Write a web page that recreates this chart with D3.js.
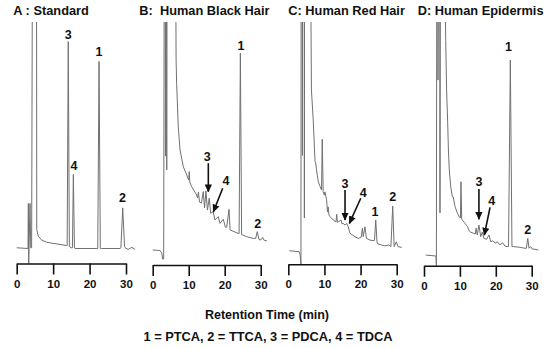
<!DOCTYPE html>
<html>
<head>
<meta charset="utf-8">
<script src="https://cdn.jsdelivr.net/npm/d3@7"></script>
<style>
body { margin: 0; background: #fff; }
text { font-family: "Liberation Sans", Arial, Helvetica, sans-serif; font-weight: bold; fill: #111; }
</style>
</head>
<body>
<svg id="chart" width="550" height="348"></svg>
<script>
// panel titles
const titles = ["A : Standard", "B:  Human Black Hair", "C: Human Red Hair", "D: Human Epidermis"];
const tickValues = [0, 10, 20, 30];
const xTitle = "Retention Time (min)";
const legendText = "1 = PTCA, 2 = TTCA, 3 = PDCA, 4 = TDCA";

// traces: [retention time (min), signal (% of full scale)]
// values above 100 are off scale and get clipped
const traceA = [[0,6.5],[2.9,6.2],[3.1,6.2],[3.2,24.8],[3.3,0],[3.65,24.8],[3.85,6.5],[4.1,6.5],[4.3,120],[5.45,120],[5.5,14],[5.9,11.3],[6.9,9.6],[8.2,8.8],[10,8.3],[11.9,7.9],[13.7,7.4],[13.85,7.4],[14.15,91.7],[14.45,7.2],[14.8,6.5],[15.3,6.5],[15.55,36.8],[15.85,6.4],[16,6.2],[22,6.2],[22.25,6.2],[22.6,83.5],[22.95,6.2],[23.3,6.2],[28.35,6.2],[28.6,6.5],[29.1,23],[29.6,7],[29.8,6.5],[30.6,5.8],[31.6,6.7],[32.5,5.8]];
const traceB = [[0,6.2],[2.0,6],[2.5,5],[2.8,2.4],[3.05,2.5],[3.2,120],[3.5,120],[3.55,45],[3.6,120],[3.85,120],[3.9,39.3],[3.97,120],[6.4,120],[6.5,84.7],[6.65,75.1],[7.1,57.1],[7.6,47.5],[8.5,40.6],[9.45,37.2],[10.0,35.1],[10.15,38.6],[10.3,34.3],[10.8,32.4],[12.2,28.9],[12.45,27.7],[12.7,30.2],[13.0,26],[13.55,25.6],[14.05,30.3],[14.4,23.6],[14.8,30.6],[15.2,22.7],[15.7,27.6],[16.1,21.4],[16.8,22],[17.3,18.6],[18.2,20],[18.7,17.2],[19.6,18.9],[20.2,15.6],[20.55,15.6],[21.2,23],[21.5,14.5],[22.9,13.6],[23.7,13.1],[24.0,13],[24.35,87.5],[24.7,12.5],[25,12.4],[26.1,11.7],[27.9,11],[28.6,11],[29.05,13.8],[29.5,10.6],[30,10.3],[30.55,11.4],[31,10.1],[31.7,10]];
const traceC = [[0.3,5.6],[3.0,5.2],[3.3,3.8],[3.5,0],[3.55,120],[3.85,120],[3.9,45],[3.95,120],[4.4,120],[4.45,19.1],[4.5,120],[6.2,120],[6.4,72],[6.9,59.6],[7.4,42.4],[7.6,41.9],[7.8,39],[8.3,34.1],[8.8,32.1],[9.2,30.7],[9.4,51.7],[9.65,30],[9.95,28.6],[10.15,29.9],[10.6,26.6],[10.85,21.6],[11.05,23.7],[11.25,20.4],[11.55,19.7],[12.45,18.3],[13.2,17.5],[13.4,20.7],[13.6,17.3],[13.85,17.6],[14.6,18.3],[14.85,16.7],[15.2,16.9],[15.7,16.2],[16.15,16.9],[16.6,15.5],[17.05,12.8],[18.45,11.4],[19.4,10.7],[20.2,11.3],[20.5,14.9],[20.75,11.4],[21.2,15.5],[21.65,10.7],[22.6,10],[23.5,9.8],[23.85,9.8],[24.2,18.3],[24.55,9.2],[24.8,8.4],[25.85,8],[26.75,7.6],[27.85,8],[28.4,7.3],[28.9,24.1],[29.3,7.3],[29.9,9.3],[30.35,7.3],[31.4,7]];
const traceD = [[0.5,4.4],[3.35,4],[3.45,0],[3.55,120],[3.85,120],[3.9,76.7],[4.0,120],[4.4,120],[4.45,21.8],[4.55,120],[5.85,120],[6.05,93],[6.3,72.6],[6.6,59],[6.8,47.8],[7.05,39.5],[7.45,32.6],[7.9,28.5],[8.15,28.4],[8.65,24.4],[9.3,21.7],[9.85,20.2],[10.15,19.7],[10.3,34.7],[10.5,19.3],[10.85,18.5],[11.4,17.5],[12.15,16.1],[12.45,14.8],[12.8,14],[13.75,13.4],[14.3,13.1],[14.5,15.5],[14.85,12.7],[15.3,16.8],[15.8,12],[16.25,13.9],[16.7,11.3],[17.45,10.9],[18.1,12.7],[18.6,9.9],[19.15,10.3],[19.8,9.3],[20.4,9.9],[21.15,8.6],[21.9,9.5],[22.55,8.1],[23.2,7.9],[23.55,7.9],[24.05,85],[24.5,7.9],[24.9,7.9],[26.75,7.6],[28.1,7.2],[28.5,7.2],[28.9,11.3],[29.25,7.2],[29.7,7.9],[30.15,6.9],[30.9,6.8],[31.85,6.5]];

// peak labels: [text, time, signal]
const labelsA = [["3",14.15,94.6],["4",15.7,40.5],["1",22.6,87.6],["2",29.05,27.3]];
const labelsB = [["1",24.5,90.9],["3",15.15,44.8],["4",20.35,35.1],["2",29.15,17.2]];
const labelsC = [["3",15.7,33.2],["4",20.75,29.6],["1",24.0,21.7],["2",28.9,28.2]];
const labelsD = [["1",23.5,90.5],["3",15.3,34.6],["4",18.85,27.1],["2",28.9,15]];

// arrows: [t from, v from, t to, v to]
const arrowsB = [[15.45,42.1,15.45,30.3],[19.45,31.7,16.85,22]];
const arrowsC = [[15.7,30.7,15.7,18.3],[20.05,27.3,16.9,16.9]];
const arrowsD = [[15.3,31.7,15.3,19.2],[18.4,24.1,16.8,12.7]];

const traces = [traceA, traceB, traceC, traceD];
const labels = [labelsA, labelsB, labelsC, labelsD];
const arrows = [[], arrowsB, arrowsC, arrowsD];

// where each panel sits on the page
const layout = [
    {x0: 16.7, x1: 126, axisY: 263.5, titleX: 13.3},
    {x0: 152.7, x1: 260.7, axisY: 265, titleX: 139.3},
    {x0: 288.3, x1: 396.7, axisY: 264.3, titleX: 288.3},
    {x0: 424, x1: 531.7, axisY: 265.7, titleX: 417.7}
];
const plotTop = 22;

const svg = d3.select("#chart");

svg.append("defs").append("marker")
    .attr("id", "head")
    .attr("viewBox", "0 -5 10 10")
    .attr("refX", 9)
    .attr("refY", 0)
    .attr("markerWidth", 8)
    .attr("markerHeight", 8)
    .attr("markerUnits", "userSpaceOnUse")
    .attr("orient", "auto")
    .append("path")
    .attr("d", "M0,-4.5L10,0L0,4.5Z")
    .attr("fill", "#111");

layout.forEach(function(p, i) {
    var x = d3.scaleLinear().domain([0, 30]).range([p.x0, p.x1]);
    var y = d3.scaleLinear().domain([0, 100]).range([p.axisY, p.axisY - 242]);
    var g = svg.append("g");

    g.append("clipPath").attr("id", "clip" + i)
        .append("rect")
        .attr("x", p.x0 - 10).attr("y", plotTop)
        .attr("width", p.x1 - p.x0 + 25).attr("height", p.axisY - plotTop + 1);

    var line = d3.line().x(d => x(d[0])).y(d => y(d[1]));
    g.append("path")
        .datum(traces[i])
        .attr("clip-path", "url(#clip" + i + ")")
        .attr("d", line)
        .attr("fill", "none")
        .attr("stroke", "#707070")
        .attr("stroke-width", 1)
        .attr("stroke-linejoin", "round");

    var axis = g.append("g")
        .attr("transform", "translate(0," + p.axisY + ")")
        .call(d3.axisBottom(x).tickValues(tickValues).tickSize(11).tickSizeOuter(0).tickPadding(5));
    axis.select(".domain").attr("stroke", "#111").attr("stroke-width", 1.6);
    axis.selectAll(".tick line").attr("stroke", "#111").attr("stroke-width", 1.6);
    axis.selectAll(".tick text")
        .attr("font-family", "Liberation Sans, Arial, sans-serif")
        .attr("font-weight", "bold")
        .attr("font-size", 11.5)
        .attr("fill", "#111");

    g.append("text")
        .attr("x", p.titleX)
        .attr("y", 15)
        .attr("font-size", 12.8)
        .style("white-space", "pre")
        .text(titles[i]);

    g.selectAll(".peak")
        .data(labels[i])
        .join("text")
        .attr("class", "peak")
        .attr("x", d => x(d[1]))
        .attr("y", d => y(d[2]))
        .attr("dy", "0.36em")
        .attr("text-anchor", "middle")
        .attr("font-size", 12.5)
        .text(d => d[0]);

    g.selectAll(".arrow")
        .data(arrows[i])
        .join("line")
        .attr("class", "arrow")
        .attr("x1", d => x(d[0])).attr("y1", d => y(d[1]))
        .attr("x2", d => x(d[2])).attr("y2", d => y(d[3]))
        .attr("stroke", "#111")
        .attr("stroke-width", 1.6)
        .attr("marker-end", "url(#head)");
});

svg.append("text")
    .attr("x", 267).attr("y", 319)
    .attr("text-anchor", "middle")
    .attr("font-size", 12.5)
    .text(xTitle);

svg.append("text")
    .attr("x", 268).attr("y", 341)
    .attr("text-anchor", "middle")
    .attr("font-size", 12.8)
    .text(legendText);
</script>
</body>
</html>
